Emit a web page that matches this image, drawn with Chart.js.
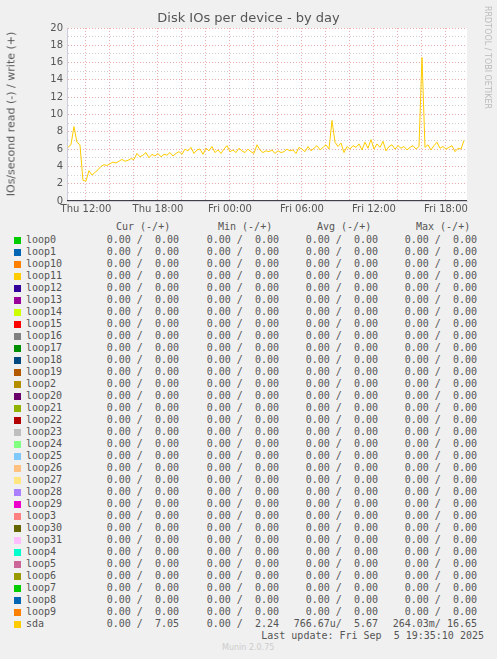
<!DOCTYPE html>
<html>
<head>
<meta charset="utf-8">
<script src="https://cdn.jsdelivr.net/npm/chart.js@4/dist/chart.umd.min.js"></script>
<style>
  body { margin: 0; background: #f0f0f0; width: 497px; height: 659px; position: relative; overflow: hidden; }
  #wrap { position: absolute; left: 0; top: 0; width: 497px; height: 215px; }
  .t { position: absolute; font-family: "DejaVu Sans Mono", monospace; font-size: 10px; color: #555; white-space: pre; }
  .sw { position: absolute; width: 7px; height: 7px; }
  #title { position: absolute; top: 10px; left: 0; width: 497px; text-align: center; font-family: "DejaVu Sans", sans-serif; font-size: 13px; color: #555; }
  #ytitle { position: absolute; left: 4px; top: 114px; transform: translate(0,-50%) rotate(-90deg); transform-origin: center; font-family: "DejaVu Sans", sans-serif; font-size: 11px; color: #555; white-space: nowrap; width: 14px; display: flex; justify-content: center; }
  #rrd { position: absolute; left: 483px; top: 6px; writing-mode: vertical-rl; font-family: "DejaVu Sans", sans-serif; font-size: 8px; color: #bbb; }
</style>
</head>
<body>
<div id="wrap"><canvas id="c"></canvas></div>
<div id="title">Disk IOs per device - by day</div>
<div id="ytitle"><span>IOs/second read (-) / write (+)</span></div>
<div id="rrd">RRDTOOL / TOBI OETIKER</div>
<div id="legend"></div>
<script>
// sda writes, one sample every 15 minutes starting Thu 10:30 (hours since Thu 00:00)
const START_HOUR = 10.5;
const STEP_HOUR = 0.25;
const sdaWrite = [6.2,6.5,8.6,6.8,6.5,2.4,2.3,3.5,3.0,3.3,3.6,4.0,4.2,4.1,4.3,4.5,4.4,4.6,4.8,4.6,4.7,4.9,4.8,5.5,5.1,5.3,5.6,5.0,5.4,5.2,5.5,5.1,5.4,5.3,5.6,5.2,5.5,5.7,5.4,6.0,5.8,6.2,5.5,5.9,6.0,5.4,6.1,5.8,6.3,5.6,5.9,5.5,6.0,6.4,5.7,5.9,5.6,6.1,5.8,5.6,6.0,5.7,5.5,6.5,5.9,5.6,5.8,5.7,5.9,5.5,5.8,5.6,5.7,6.0,5.8,5.9,5.5,6.2,6.0,5.7,6.3,5.8,6.1,6.4,5.9,6.2,6.5,6.0,9.3,6.8,6.3,6.7,5.6,6.3,6.0,6.4,6.2,6.6,5.9,6.8,6.1,7.1,6.0,6.6,6.2,6.9,5.8,6.3,6.5,6.0,6.4,6.1,6.3,5.9,6.2,6.4,6.0,6.3,16.6,6.2,6.5,5.9,6.4,6.8,6.1,6.3,6.0,6.2,6.4,5.7,6.1,6.0,7.0];
const xMin = 10.42, xMax = 43.75;

const devices = ["loop0","loop1","loop10","loop11","loop12","loop13","loop14","loop15","loop16","loop17","loop18","loop19","loop2","loop20","loop21","loop22","loop23","loop24","loop25","loop26","loop27","loop28","loop29","loop3","loop30","loop31","loop4","loop5","loop6","loop7","loop8","loop9","sda"];
const colors = ["#00cc00","#0066b3","#ff8000","#ffcc00","#330099","#990099","#ccff00","#ff0000","#808080","#008f00","#00487d","#b35a00","#b38f00","#6b006b","#8fb300","#b30000","#bebebe","#80ff80","#80c9ff","#ffc080","#ffe680","#aa80ff","#ee00cc","#ff8080","#666600","#ffbfff","#00ffcc","#cc6699","#999900","#00cc00","#0066b3","#ff8000","#ffcc00"];
const curVals = devices.map(d => d === "sda" ? "0.00 /  7.05" : "0.00 /  0.00");
const minVals = devices.map(d => d === "sda" ? "0.00 /  2.24" : "0.00 /  0.00");
const avgVals = devices.map(d => d === "sda" ? "766.67u/  5.67" : "0.00 /  0.00");
const maxVals = devices.map(d => d === "sda" ? "264.03m/ 16.65" : "0.00 /  0.00");

// legend
const leg = document.getElementById("legend");
function txt(s, x, y, extra) {
  const el = document.createElement("div");
  el.className = "t"; el.textContent = s;
  el.style.left = x + "px"; el.style.top = y + "px";
  if (extra) Object.assign(el.style, extra);
  leg.appendChild(el);
}
txt("Cur (-/+)", 116, 221); txt("Min (-/+)", 218, 221); txt("Avg (-/+)", 317, 221); txt("Max (-/+)", 416, 221);
devices.forEach((d, i) => {
  const y = 234 + i * 12;
  const sw = document.createElement("div");
  sw.className = "sw"; sw.style.left = "14px"; sw.style.top = (y + 3) + "px"; sw.style.background = colors[i];
  leg.appendChild(sw);
  txt(d, 26, y);
  const right = (s, r) => txt(s, 0, y, { left: "auto", right: (497 - r) + "px" });
  right(curVals[i], 179); right(minVals[i], 279); right(avgVals[i], 378); right(maxVals[i], 477);
});
txt("Last update: Fri Sep  5 19:35:10 2025", 0, 630, { left: "auto", right: "13px" });
txt("Munin 2.0.75", 222, 643, { fontFamily: "DejaVu Sans, sans-serif", fontSize: "8px", color: "#ccc" });

const points = sdaWrite.map((v, i) => ({ x: START_HOUR + i * STEP_HOUR, y: v }));
const hourLabel = h => (h < 24 ? "Thu " : "Fri ") + String(h % 24).padStart(2, "0") + ":00";

new Chart(document.getElementById("c"), {
  type: "line",
  data: { datasets: [
    { data: points, borderColor: "#ffcc00", borderWidth: 1, pointRadius: 0, tension: 0 },
    { data: [{ x: xMin, y: 0 }, { x: xMax, y: 0 }], borderColor: "#000", borderWidth: 1.5, pointRadius: 0 }
  ] },
  options: {
    responsive: true, maintainAspectRatio: false, animation: false,
    layout: { padding: { top: 28, right: 30, left: 0, bottom: 0 } },
    plugins: { legend: { display: false }, tooltip: { enabled: false } },
    scales: {
      x: {
        type: "linear", min: xMin, max: xMax,
        afterFit: s => { s.height = 14; },
        ticks: { stepSize: 2, includeBounds: false, autoSkip: false, maxRotation: 0, color: "#555", font: { family: "DejaVu Sans", size: 10 }, padding: 2,
          callback: v => (Math.abs(v % 6) < 0.01) ? hourLabel(Math.round(v)) : "" },
        grid: { color: "rgba(230,140,140,0.9)", drawTicks: false, lineWidth: 0.8 },
        border: { color: "#ccd", width: 1, dash: [1, 2] }
      },
      y: {
        min: 0, max: 20,
        afterFit: s => { s.width = 67; },
        ticks: { stepSize: 1, autoSkip: false, color: "#555", font: { family: "DejaVu Sans", size: 10 }, padding: 4,
          callback: v => v % 2 === 0 ? v : "" },
        grid: { color: c => c.tick.value % 2 === 0 ? "rgba(230,140,140,0.9)" : "rgba(190,190,190,0.9)", drawTicks: false, lineWidth: 0.8 },
        border: { color: "#ccd", width: 1, dash: [1, 2] }
      }
    }
  },
  plugins: [{
    id: "bg",
    beforeDraw: ch => { const a = ch.chartArea, x = ch.ctx; x.save(); x.fillStyle = "#fff"; x.fillRect(a.left, a.top, a.right - a.left, a.bottom - a.top); x.restore(); }
  }]
});
</script>
</body>
</html>
